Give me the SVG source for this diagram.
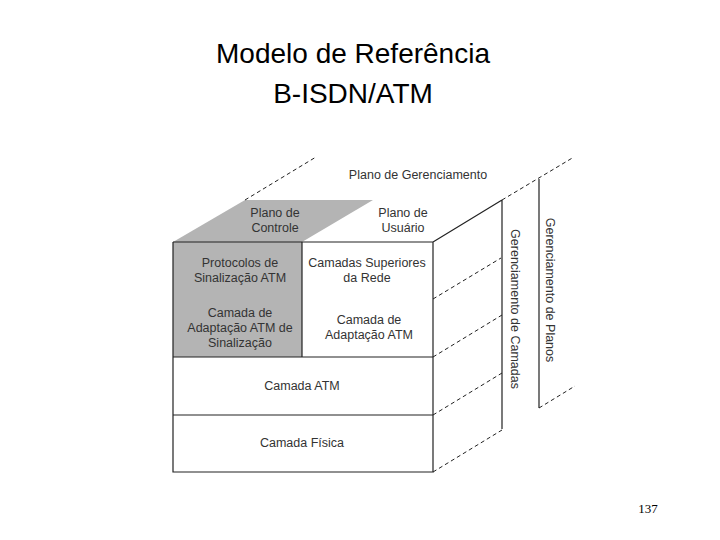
<svg xmlns="http://www.w3.org/2000/svg" width="720" height="540" viewBox="0 0 720 540">
<style>
.t{font-family:"Liberation Sans",Arial,sans-serif;font-size:12.5px;fill:#333;text-anchor:middle}
.h{font-family:"Liberation Sans",Arial,sans-serif;font-size:28px;fill:#000;text-anchor:middle}
.s{stroke:#222;stroke-width:1.2;fill:none}
.d{stroke:#222;stroke-width:1;stroke-dasharray:4,3;fill:none}
</style>
<rect width="720" height="540" fill="#fff"/>
<text class="h" x="353" y="63">Modelo de Referência</text>
<text class="h" x="353" y="103">B-ISDN/ATM</text>
<g id="shapes">
<polygon points="173,242 302,242 373,200 245,200" fill="#b4b4b4"/>
<rect x="173" y="242" width="129" height="115" fill="#b4b4b4"/>
</g>
<g id="connectors">
<path class="s" d="M173,242 V472 H433 V242 H173 M302,242 V357 M173,357 H433 M173,415 H433 M433,242 L502,200 M502,200 V429 M539,179 V408"/>
<path class="d" d="M245,200 L316,157 M502,200 L574,157 M433,299 L501,258 M433,357 L502,315 M433,415 L502,373 M433,472 L502,430 M539,408 L575,386"/>
</g>
<g id="labels">
<text class="t" x="418" y="179">Plano de Gerenciamento</text>
<text class="t" x="275" y="217">Plano de</text><text class="t" x="275" y="232">Controle</text>
<text class="t" x="403" y="217">Plano de</text><text class="t" x="403" y="232">Usuário</text>
<text class="t" x="240" y="267">Protocolos de</text><text class="t" x="240" y="282">Sinalização ATM</text>
<text class="t" x="240" y="317">Camada de</text><text class="t" x="240" y="332">Adaptação ATM de</text><text class="t" x="240" y="347">Sinalização</text>
<text class="t" x="367" y="267">Camadas Superiores</text><text class="t" x="367" y="282">da Rede</text>
<text class="t" x="369" y="324">Camada de</text><text class="t" x="369" y="339">Adaptação ATM</text>
<text class="t" x="302" y="390">Camada ATM</text>
<text class="t" x="302" y="447">Camada Física</text>
<text class="t" transform="translate(511,309) rotate(90)">Gerenciamento de Camadas</text>
<text class="t" transform="translate(546,290) rotate(90)">Gerenciamento de Planos</text>
</g>
<text x="648" y="513" font-family="Liberation Serif,serif" font-size="13" text-anchor="middle">137</text>
</svg>
